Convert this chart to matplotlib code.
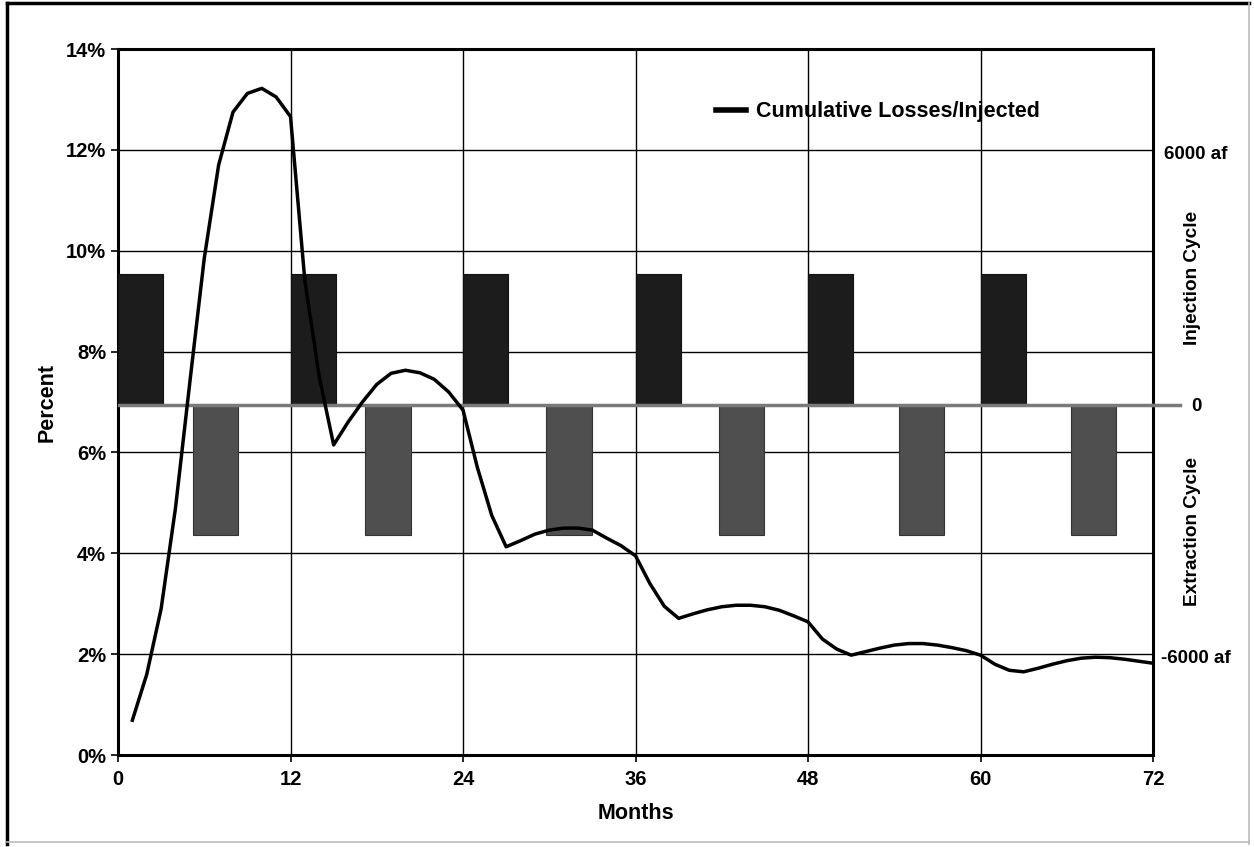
import matplotlib
matplotlib.use('Agg')
import matplotlib.pyplot as plt
from matplotlib.lines import Line2D

plt.rcParams['font.family'] = ['Liberation Sans', 'DejaVu Sans']
plt.rcParams['font.weight'] = 'bold'

# cumulative losses / injected, percent, read month by month (months 1..72)
months = list(range(1, 73))
losses = [0.69, 1.6, 2.9, 4.9, 7.4, 9.85, 11.7, 12.75, 13.12, 13.22, 13.05, 12.66,
          9.4, 7.5, 6.15, 6.6, 7.0, 7.35, 7.57, 7.63, 7.58, 7.45, 7.2, 6.84,
          5.7, 4.75, 4.13, 4.25, 4.38, 4.46, 4.5, 4.5, 4.46, 4.3, 4.15, 3.95,
          3.4, 2.95, 2.71, 2.8, 2.88, 2.94, 2.97, 2.97, 2.94, 2.87, 2.76, 2.64,
          2.3, 2.1, 1.98, 2.05, 2.12, 2.18, 2.21, 2.21, 2.18, 2.13, 2.07, 1.98,
          1.8, 1.68, 1.65, 1.72, 1.8, 1.87, 1.92, 1.94, 1.93, 1.9, 1.86, 1.82]

# injection / extraction cycles (acre-feet)
inj_start = [0, 12, 24, 36, 48, 60]
inj_volume = [3100, 3100, 3100, 3100, 3100, 3100]
ext_start = [5.2, 17.2, 29.8, 41.8, 54.3, 66.3]
ext_volume = [-3100, -3100, -3100, -3100, -3100, -3100]
bar_width = 3.15

fig = plt.figure(figsize=(12.54, 8.47), dpi=100)
ax = fig.add_axes([0.0941, 0.1086, 0.8254, 0.8335])

# percent axis with grid
ax.set_xlim(0, 72)
ax.set_ylim(0, 14)
ax.set_xticks(range(0, 73, 12))
ax.set_yticks(range(0, 15, 2))
ax.set_yticklabels([f'{v}%' for v in range(0, 15, 2)])
ax.grid(True, color='black', linewidth=1.0)
ax.set_axisbelow(True)
ax.tick_params(axis='both', labelsize=14.5, length=5, width=1.2, direction='out')
ax.tick_params(axis='x', pad=6)
for s in ax.spines.values():
    s.set_linewidth(2.2)
ax.set_xlabel('Months', fontsize=15.5, fontweight='bold', labelpad=10)
ax.set_ylabel('Percent', fontsize=15.5, fontweight='bold', labelpad=6)

# volume axis with bars
ax2 = ax.twinx()
ax2.set_ylim(-6.95 * 1200, 7.05 * 1200)
ax2.bar(inj_start, inj_volume, width=bar_width, align='edge', color='#1c1c1c',
        edgecolor='#111111', linewidth=0.8)
ax2.bar(ext_start, ext_volume, width=bar_width, align='edge', color='#4f4f4f',
        edgecolor='#333333', linewidth=0.8)
ax2.axhline(0, color='#7a7a7a', linewidth=2.5)
ax2.plot([1.0, 1.026], [0, 0], color='#7a7a7a', linewidth=2.5,
         transform=ax2.get_yaxis_transform(), clip_on=False)
ax2.set_yticks([-6000, 0, 6000])
ax2.set_yticklabels(['-6000 af', '0', '6000 af'])
ax2.tick_params(axis='y', length=0, labelsize=13.5, pad=31)
for lab in ax2.get_yticklabels():
    lab.set_horizontalalignment('center')
for s in ax2.spines.values():
    s.set_visible(False)
ax2.text(1.0377, 0.676, 'Injection Cycle', transform=ax2.transAxes, rotation=90,
         ha='center', va='center', fontsize=13.7, fontweight='bold')
ax2.text(1.0377, 0.316, 'Extraction Cycle', transform=ax2.transAxes, rotation=90,
         ha='center', va='center', fontsize=13.7, fontweight='bold')

# curve on top of the bars
ax3 = ax.twinx()
ax3.set_ylim(0, 14)
ax3.set_yticks([])
for s in ax3.spines.values():
    s.set_visible(False)
ax3.plot(months, losses, color='black', linewidth=2.5, label='Cumulative Losses/Injected',
         solid_joinstyle='round')
leg = ax3.legend(loc='center left', bbox_to_anchor=(0.578, 0.911), frameon=False,
                 fontsize=15.5, handlelength=1.4, handletextpad=0.45,
                 borderpad=0, borderaxespad=0)
for line in leg.get_lines():
    line.set_linewidth(4)

# outer frame of the picture
fig.add_artist(Line2D([0.0056, 0.0056], [0.004, 0.9965], color='black', linewidth=2.5, transform=fig.transFigure))
fig.add_artist(Line2D([0.0056, 0.996], [0.9965, 0.9965], color='black', linewidth=2.5, transform=fig.transFigure))
fig.add_artist(Line2D([0.996, 0.996], [0.004, 0.9965], color='#bbbbbb', linewidth=1.2, transform=fig.transFigure))
fig.add_artist(Line2D([0.0056, 0.996], [0.006, 0.006], color='#bbbbbb', linewidth=1.2, transform=fig.transFigure))

fig.savefig('out.png', dpi=100)
